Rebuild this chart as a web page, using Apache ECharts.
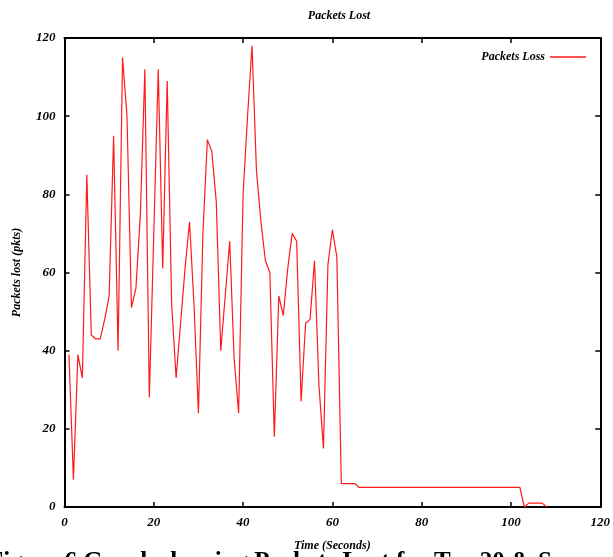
<!DOCTYPE html>
<html>
<head>
<meta charset="utf-8">
<script src="https://cdn.jsdelivr.net/npm/echarts@6/dist/echarts.min.js"></script>
<style>
  html, body { margin: 0; padding: 0; background: #fff; }
  #chart { width: 613px; height: 557px; }
</style>
</head>
<body>
<div id="chart"></div>
<script>
// Simulation time (s) and packets lost at each sample
const times = [
  1, 2, 3, 4, 5, 6, 7, 8, 9, 10,
  11, 12, 13, 14, 15, 16, 17, 18, 19, 20,
  21, 22, 23, 24, 25, 26, 27, 28, 29, 30,
  31, 32, 33, 34, 35, 36, 37, 38, 39, 40,
  41, 42, 43, 44, 45, 46, 47, 48, 49, 50,
  51, 52, 53, 54, 55, 56, 57, 58, 59, 60,
  61, 62, 65, 66, 102, 103, 104, 107, 108
];
const packetsLost = [
  39, 7, 39, 33, 85, 44, 43, 43, 48, 54,
  95, 40, 115, 100, 51, 56, 75, 112, 28, 70,
  112, 61, 109, 52, 33, 47, 61, 73, 52, 24,
  70, 94, 91, 78, 40, 54, 68, 38, 24, 80,
  100, 118, 86, 73, 63, 60, 18, 54, 49, 61,
  70, 68, 27, 47, 48, 63, 31, 15, 62, 71,
  64, 6, 6, 5, 5, 0, 1, 1, 0
];

const xTicks = [0, 20, 40, 60, 80, 100, 120];
const yTicks = [0, 20, 40, 60, 80, 100, 120];

const serif = '"Liberation Serif", "DejaVu Serif", serif';
const labelFont = { fontFamily: serif, fontStyle: 'italic', fontWeight: 'bold', fontSize: 13, color: '#000' };

const points = times.map((t, i) => [t, packetsLost[i]]);

// gnuplot-style frame: solid border on every side, ticks pointing inward
const axisLine = { show: true, onZero: false, lineStyle: { color: '#000', width: 2 } };
const tick = { show: true, inside: true, length: 5, lineStyle: { color: '#000', width: 1.5 } };

const chart = echarts.init(document.getElementById('chart'), null, { renderer: 'canvas' });
chart.setOption({
  animation: false,
  backgroundColor: '#fff',
  title: {
    text: 'Packets Lost',
    left: 334,
    top: 5,
    textAlign: 'center',
    textStyle: { fontFamily: serif, fontStyle: 'italic', fontWeight: 'bold', fontSize: 12, color: '#000' }
  },
  legend: {
    right: 22,
    top: 46,
    itemWidth: 36,
    itemHeight: 2,
    itemGap: 8,
    align: 'right',
    textStyle: Object.assign({}, labelFont, { fontSize: 12 }),
    data: [{ name: 'Packets Loss', icon: 'path://M0,0 L36,0 L36,1.5 L0,1.5 Z' }]
  },
  grid: { left: 64.5, right: 10, top: 38, bottom: 50, containLabel: false },
  xAxis: [
    {
      type: 'value', position: 'bottom',
      min: xTicks[0], max: xTicks[xTicks.length - 1], interval: 20,
      name: 'Time (Seconds)', nameLocation: 'middle', nameGap: 33,
      nameTextStyle: Object.assign({}, labelFont, { fontSize: 12 }),
      axisLine, axisTick: tick,
      axisLabel: Object.assign({ margin: 9 }, labelFont),
      splitLine: { show: false }
    },
    {
      type: 'value', position: 'top',
      min: xTicks[0], max: xTicks[xTicks.length - 1], interval: 20,
      axisLine, axisTick: tick,
      axisLabel: { show: false }, splitLine: { show: false }
    }
  ],
  yAxis: [
    {
      type: 'value', position: 'left',
      min: yTicks[0], max: yTicks[yTicks.length - 1], interval: 20,
      name: 'Packets lost (pkts)', nameLocation: 'middle', nameGap: 42, nameRotate: 90,
      nameTextStyle: Object.assign({}, labelFont, { fontSize: 12 }),
      axisLine, axisTick: tick,
      axisLabel: Object.assign({ margin: 9 }, labelFont),
      splitLine: { show: false }
    },
    {
      type: 'value', position: 'right',
      min: yTicks[0], max: yTicks[yTicks.length - 1], interval: 20,
      axisLine, axisTick: tick,
      axisLabel: { show: false }, splitLine: { show: false }
    }
  ],
  series: [{
    name: 'Packets Loss',
    type: 'line',
    xAxisIndex: 0,
    yAxisIndex: 0,
    data: points,
    showSymbol: false,
    symbol: 'none',
    lineStyle: { color: '#ff1a1a', width: 1.2 },
    itemStyle: { color: '#ff1a1a' },
    z: 1
  }],
  graphic: [{
    type: 'text',
    left: -12,
    top: 550,
    z: -1,
    style: {
      text: 'Figure 6 Graph showing Packets Lost for Tcp 20 & Scenario',
      fontFamily: serif,
      fontWeight: 'bold',
      fontSize: 25,
      fill: '#000'
    }
  }]
});
</script>
</body>
</html>
